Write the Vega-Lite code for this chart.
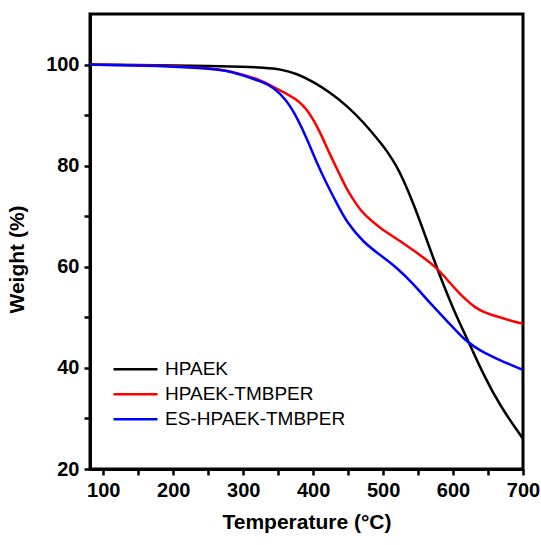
{
  "$schema": "https://vega.github.io/schema/vega-lite/v6.json",
  "autosize": {"type": "none"},
  "width": 433,
  "height": 455,
  "padding": {"left": 90, "top": 14, "right": 18, "bottom": 76},
  "background": "white",
  "config": {
    "view": {"stroke": "black", "strokeWidth": 3},
    "font": "Liberation Sans"
  },
  "data": {
    "values": [
      {"T": 80, "W": 100, "s": "HPAEK"},
      {"T": 150, "W": 99.9, "s": "HPAEK"},
      {"T": 200, "W": 99.8, "s": "HPAEK"},
      {"T": 250, "W": 99.7, "s": "HPAEK"},
      {"T": 300, "W": 99.6, "s": "HPAEK"},
      {"T": 330, "W": 99.4, "s": "HPAEK"},
      {"T": 353, "W": 99.1, "s": "HPAEK"},
      {"T": 377, "W": 98.2, "s": "HPAEK"},
      {"T": 400, "W": 96.6, "s": "HPAEK"},
      {"T": 424, "W": 94.5, "s": "HPAEK"},
      {"T": 448, "W": 91.9, "s": "HPAEK"},
      {"T": 472, "W": 88.6, "s": "HPAEK"},
      {"T": 496, "W": 84.6, "s": "HPAEK"},
      {"T": 506, "W": 82.8, "s": "HPAEK"},
      {"T": 519, "W": 80.0, "s": "HPAEK"},
      {"T": 529, "W": 77.2, "s": "HPAEK"},
      {"T": 543, "W": 72.6, "s": "HPAEK"},
      {"T": 557, "W": 67.4, "s": "HPAEK"},
      {"T": 571, "W": 62.0, "s": "HPAEK"},
      {"T": 586, "W": 56.5, "s": "HPAEK"},
      {"T": 600, "W": 51.8, "s": "HPAEK"},
      {"T": 613, "W": 47.8, "s": "HPAEK"},
      {"T": 626, "W": 44.0, "s": "HPAEK"},
      {"T": 643, "W": 38.8, "s": "HPAEK"},
      {"T": 667, "W": 32.5, "s": "HPAEK"},
      {"T": 700, "W": 26.0, "s": "HPAEK"},

      {"T": 80, "W": 100, "s": "HPAEK-TMBPER"},
      {"T": 150, "W": 99.9, "s": "HPAEK-TMBPER"},
      {"T": 200, "W": 99.7, "s": "HPAEK-TMBPER"},
      {"T": 250, "W": 99.3, "s": "HPAEK-TMBPER"},
      {"T": 281, "W": 98.8, "s": "HPAEK-TMBPER"},
      {"T": 329, "W": 96.8, "s": "HPAEK-TMBPER"},
      {"T": 343, "W": 95.5, "s": "HPAEK-TMBPER"},
      {"T": 377, "W": 93.3, "s": "HPAEK-TMBPER"},
      {"T": 396, "W": 90.3, "s": "HPAEK-TMBPER"},
      {"T": 410, "W": 86.6, "s": "HPAEK-TMBPER"},
      {"T": 424, "W": 82.2, "s": "HPAEK-TMBPER"},
      {"T": 439, "W": 78.0, "s": "HPAEK-TMBPER"},
      {"T": 448, "W": 75.3, "s": "HPAEK-TMBPER"},
      {"T": 462, "W": 72.3, "s": "HPAEK-TMBPER"},
      {"T": 472, "W": 70.4, "s": "HPAEK-TMBPER"},
      {"T": 496, "W": 67.6, "s": "HPAEK-TMBPER"},
      {"T": 519, "W": 65.6, "s": "HPAEK-TMBPER"},
      {"T": 543, "W": 63.3, "s": "HPAEK-TMBPER"},
      {"T": 577, "W": 59.9, "s": "HPAEK-TMBPER"},
      {"T": 596, "W": 56.7, "s": "HPAEK-TMBPER"},
      {"T": 610, "W": 54.6, "s": "HPAEK-TMBPER"},
      {"T": 620, "W": 53.3, "s": "HPAEK-TMBPER"},
      {"T": 631, "W": 52.0, "s": "HPAEK-TMBPER"},
      {"T": 643, "W": 51.1, "s": "HPAEK-TMBPER"},
      {"T": 655, "W": 50.5, "s": "HPAEK-TMBPER"},
      {"T": 667, "W": 50.0, "s": "HPAEK-TMBPER"},
      {"T": 681, "W": 49.4, "s": "HPAEK-TMBPER"},
      {"T": 700, "W": 48.7, "s": "HPAEK-TMBPER"},

      {"T": 80, "W": 100, "s": "ES-HPAEK-TMBPER"},
      {"T": 150, "W": 99.8, "s": "ES-HPAEK-TMBPER"},
      {"T": 200, "W": 99.6, "s": "ES-HPAEK-TMBPER"},
      {"T": 250, "W": 99.2, "s": "ES-HPAEK-TMBPER"},
      {"T": 281, "W": 98.8, "s": "ES-HPAEK-TMBPER"},
      {"T": 329, "W": 96.5, "s": "ES-HPAEK-TMBPER"},
      {"T": 343, "W": 95.5, "s": "ES-HPAEK-TMBPER"},
      {"T": 362, "W": 93.0, "s": "ES-HPAEK-TMBPER"},
      {"T": 377, "W": 89.5, "s": "ES-HPAEK-TMBPER"},
      {"T": 391, "W": 85.4, "s": "ES-HPAEK-TMBPER"},
      {"T": 405, "W": 80.6, "s": "ES-HPAEK-TMBPER"},
      {"T": 419, "W": 76.5, "s": "ES-HPAEK-TMBPER"},
      {"T": 434, "W": 72.5, "s": "ES-HPAEK-TMBPER"},
      {"T": 448, "W": 68.8, "s": "ES-HPAEK-TMBPER"},
      {"T": 472, "W": 64.8, "s": "ES-HPAEK-TMBPER"},
      {"T": 496, "W": 62.3, "s": "ES-HPAEK-TMBPER"},
      {"T": 519, "W": 59.9, "s": "ES-HPAEK-TMBPER"},
      {"T": 543, "W": 56.7, "s": "ES-HPAEK-TMBPER"},
      {"T": 567, "W": 52.8, "s": "ES-HPAEK-TMBPER"},
      {"T": 600, "W": 48.0, "s": "ES-HPAEK-TMBPER"},
      {"T": 614, "W": 45.9, "s": "ES-HPAEK-TMBPER"},
      {"T": 630, "W": 44.2, "s": "ES-HPAEK-TMBPER"},
      {"T": 643, "W": 43.1, "s": "ES-HPAEK-TMBPER"},
      {"T": 667, "W": 41.5, "s": "ES-HPAEK-TMBPER"},
      {"T": 700, "W": 39.6, "s": "ES-HPAEK-TMBPER"}
    ]
  },
  "mark": {"type": "line", "strokeWidth": 2.5, "interpolate": "basis", "clip": true},
  "encoding": {
    "x": {
      "field": "T", "type": "quantitative",
      "scale": {"domain": [81, 700], "nice": false, "zero": false},
      "axis": {
        "title": "Temperature (°C)",
        "values": [100, 150, 200, 250, 300, 350, 400, 450, 500, 550, 600, 650, 700],
        "labelExpr": "datum.value % 100 === 0 ? datum.label : ''",
        "format": "d",
        "grid": false,
        "domainColor": "black", "domainWidth": 3,
        "tickColor": "black", "tickWidth": 2.5, "tickSize": 6,
        "labelFont": "Liberation Sans", "labelFontSize": 20, "labelFontWeight": "bold", "labelColor": "black",
        "labelPadding": 5, "labelFlush": false, "labelOverlap": false,
        "titleFont": "Liberation Sans", "titleFontSize": 21, "titleFontWeight": "bold", "titleColor": "black",
        "titleY": 53, "titleBaseline": "middle"
      }
    },
    "y": {
      "field": "W", "type": "quantitative",
      "scale": {"domain": [20, 110], "nice": false, "zero": false},
      "axis": {
        "title": "Weight (%)",
        "values": [20, 30, 40, 50, 60, 70, 80, 90, 100],
        "labelExpr": "datum.value % 20 === 0 ? datum.label : ''",
        "grid": false,
        "domainColor": "black", "domainWidth": 3,
        "tickColor": "black", "tickWidth": 2.5, "tickSize": 6,
        "labelFont": "Liberation Sans", "labelFontSize": 20, "labelFontWeight": "bold", "labelColor": "black",
        "labelPadding": 5, "labelFlush": false, "labelOverlap": false,
        "titleFont": "Liberation Sans", "titleFontSize": 21, "titleFontWeight": "bold", "titleColor": "black",
        "titleX": -73, "titleY": 245, "titleAngle": -90, "titleBaseline": "middle", "titleAlign": "center"
      }
    },
    "color": {
      "field": "s", "type": "nominal",
      "scale": {"domain": ["HPAEK", "HPAEK-TMBPER", "ES-HPAEK-TMBPER"], "range": ["#000000", "#ff0000", "#0000ff"]},
      "legend": {
        "title": null,
        "orient": "none",
        "legendX": 22,
        "legendY": 344,
        "symbolType": "stroke",
        "symbolSize": 1936,
        "symbolStrokeWidth": 2.5,
        "labelFont": "Liberation Sans",
        "labelFontSize": 19,
        "labelColor": "black",
        "labelLimit": 400,
        "labelOffset": 6,
        "clipHeight": 22.5,
        "rowPadding": 2,
        "padding": 0
      }
    }
  }
}
